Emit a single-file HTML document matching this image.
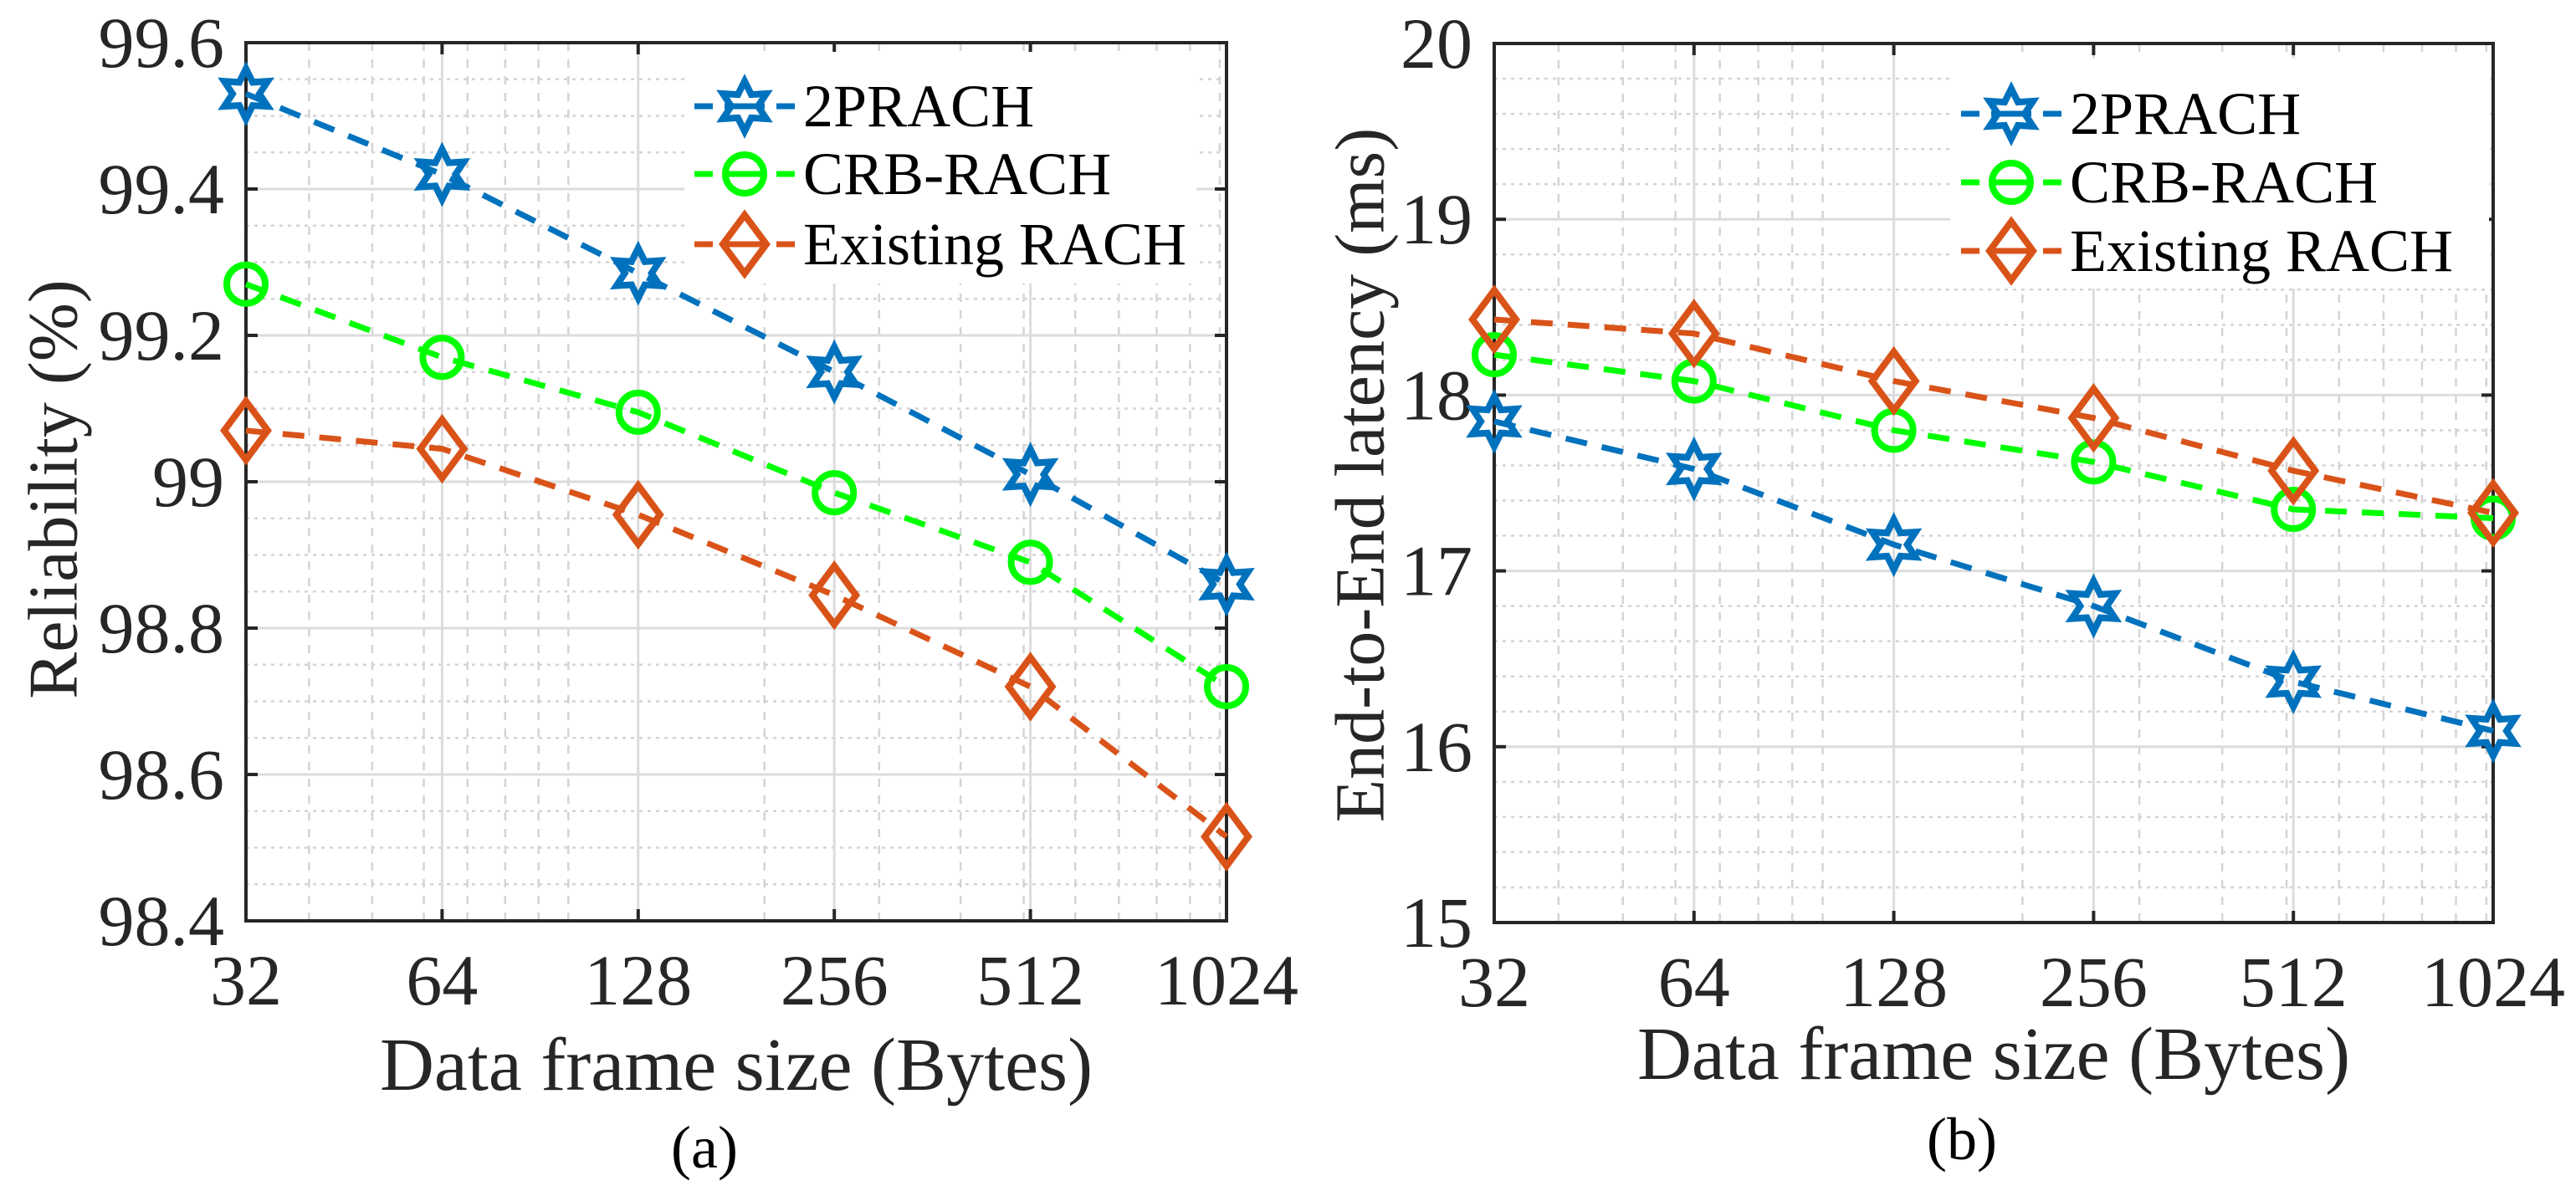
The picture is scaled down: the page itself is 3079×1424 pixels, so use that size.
<!DOCTYPE html>
<html><head><meta charset="utf-8"><style>
html,body{margin:0;padding:0;background:#fff;}
svg{display:block;font-family:"Liberation Serif",serif;}
</style></head><body>
<svg id="fig" width="3079" height="1424" viewBox="0 0 3079 1424" xmlns="http://www.w3.org/2000/svg">
<g id="pa"></g>
<g id="pb"></g>
</svg>
<script>
const categories = [32, 64, 128, 256, 512, 1024];
const xTickLabels = ["32", "64", "128", "256", "512", "1024"];
const seriesNames = ["2PRACH", "CRB-RACH", "Existing RACH"];
const relTwoPrach = [99.53, 99.42, 99.285, 99.15, 99.01, 98.86];
const relCrb = [99.27, 99.17, 99.095, 98.985, 98.89, 98.72];
const relExisting = [99.07, 99.045, 98.955, 98.845, 98.72, 98.515];
const latTwoPrach = [17.85, 17.58, 17.15, 16.8, 16.37, 16.09];
const latCrb = [18.23, 18.08, 17.8, 17.62, 17.35, 17.3];
const latExisting = [18.43, 18.35, 18.08, 17.87, 17.57, 17.33];
const relTicks = [98.4, 98.6, 98.8, 99, 99.2, 99.4, 99.6];
const relTickLabels = ["98.4", "98.6", "98.8", "99", "99.2", "99.4", "99.6"];
const latTicks = [15, 16, 17, 18, 19, 20];
const latTickLabels = ["15", "16", "17", "18", "19", "20"];
const xMinor = [40,50,60,70,80,90,100,200,300,400,500,600,700,800,900,1000];

const NS = "http://www.w3.org/2000/svg";
const colors = ["#0072BD", "#00FF00", "#D95319"];
const markers = ["hexagram", "circle", "diamond"];

function mk(parent, tag, attrs, text) {
  const e = document.createElementNS(NS, tag);
  for (const k in attrs) e.setAttribute(k, attrs[k]);
  if (text !== undefined) e.textContent = text;
  parent.appendChild(e);
  return e;
}

function markerEl(g, type, cx, cy, color) {
  let el;
  if (type === "circle") {
    el = mk(g, "circle", {cx: cx, cy: cy, r: 23, fill: "none", stroke: color, "stroke-width": 8});
  } else if (type === "diamond") {
    el = mk(g, "polygon", {points: `${cx},${cy-35} ${cx+26},${cy} ${cx},${cy+35} ${cx-26},${cy}`, fill: "none", stroke: color, "stroke-width": 8});
  } else {
    let pts = [];
    for (let i = 0; i < 12; i++) {
      const r = i % 2 === 0 ? 30 : 16;
      const a = -Math.PI / 2 + i * Math.PI / 6;
      pts.push((cx + r * Math.cos(a)).toFixed(1) + "," + (cy + r * Math.sin(a)).toFixed(1));
    }
    el = mk(g, "polygon", {points: pts.join(" "), fill: "none", stroke: color, "stroke-width": 8});
  }
  return el;
}

function drawChart(root, cfg) {
  const {L, R, T, B, ymin, ymax, yMinorStep, ticks, tickLabels, series, ylabel, ylabelX, ylabelY, xlabelY, sub, subY, leg} = cfg;
  const xs = v => L + (Math.log2(v) - Math.log2(32)) / 5 * (R - L);
  const ys = v => B - (v - ymin) / (ymax - ymin) * (B - T);

  const grid = mk(root, "g", {});
  
  
  for (let v = ymin + yMinorStep; v < ymax - 1e-9; v += yMinorStep) {
    mk(grid, "line", {x1: L, x2: R, y1: ys(v), y2: ys(v), stroke: "#d4d4d4", "stroke-width": 2.5, "stroke-dasharray": "4 6"});
  }
  xMinor.forEach(v => {
    mk(grid, "line", {x1: xs(v), x2: xs(v), y1: T, y2: B, stroke: "#d4d4d4", "stroke-width": 2.5, "stroke-dasharray": "10 10"});
  });
  ticks.forEach(v => mk(grid, "line", {x1: L, x2: R, y1: ys(v), y2: ys(v), stroke: "#dcdcdc", "stroke-width": 3}));
  categories.forEach(v => mk(grid, "line", {x1: xs(v), x2: xs(v), y1: T, y2: B, stroke: "#dcdcdc", "stroke-width": 3}));

  const lg = mk(root, "g", {});
  
  
  mk(lg, "rect", {x: leg.x, y: leg.y, width: leg.w, height: leg.h, fill: "#fff"});

  const ax = mk(root, "g", {});
  
  
  mk(ax, "rect", {x: L, y: T, width: R - L, height: B - T, fill: "none", stroke: "#262626", "stroke-width": 4});
  ticks.forEach((v, i) => {
    mk(ax, "line", {x1: L, x2: L + 14, y1: ys(v), y2: ys(v), stroke: "#262626", "stroke-width": 4});
    mk(ax, "line", {x1: R, x2: R - 14, y1: ys(v), y2: ys(v), stroke: "#262626", "stroke-width": 4});
    const t = mk(ax, "text", {x: L - 26, y: ys(v) + 29, "text-anchor": "end", "font-size": 86, fill: "#262626"}, tickLabels[i]);
    
    
  });
  categories.forEach((v, i) => {
    mk(ax, "line", {x1: xs(v), x2: xs(v), y1: B, y2: B - 14, stroke: "#262626", "stroke-width": 4});
    mk(ax, "line", {x1: xs(v), x2: xs(v), y1: T, y2: T + 14, stroke: "#262626", "stroke-width": 4});
    const t = mk(ax, "text", {x: xs(v), y: B + 100, "text-anchor": "middle", "font-size": 86, fill: "#262626"}, xTickLabels[i]);
    
    
  });
  const yl = mk(root, "text", {x: ylabelX, y: ylabelY, "text-anchor": "middle", "font-size": 84, fill: "#262626", transform: `rotate(-90 ${ylabelX} ${ylabelY})`, "dominant-baseline": "central"}, ylabel);
  
  
  const xl = mk(root, "text", {x: (L + R) / 2, y: xlabelY, "text-anchor": "middle", "font-size": 90, fill: "#262626"}, "Data frame size (Bytes)");
  
  
  const sl = mk(root, "text", {x: (L + R) / 2 - 38, y: subY, "text-anchor": "middle", "font-size": 72, fill: "#000"}, sub);
  
  

  series.forEach((vals, s) => {
    const g = mk(root, "g", {});
    
    
    const pts = vals.map((v, i) => xs(categories[i]).toFixed(1) + "," + ys(v).toFixed(1)).join(" ");
    mk(g, "polyline", {points: pts, fill: "none", stroke: colors[s], "stroke-width": 7, "stroke-dasharray": "26 18"});
    vals.forEach((v, i) => {
      const m = markerEl(g, markers[s], xs(categories[i]), ys(v), colors[s]);
      
      
    });
  });

  seriesNames.forEach((n, s) => {
    const y = leg.ey[s];
    const e = mk(lg, "g", {});
    
    
    mk(e, "line", {x1: leg.lx, x2: leg.lx + 120, y1: y, y2: y, stroke: colors[s], "stroke-width": 7, "stroke-dasharray": "22 14 48 14 22"});
    markerEl(e, markers[s], leg.lx + 60, y, colors[s]);
    mk(e, "text", {x: leg.lx + 130, y: y + 24, "font-size": 72, fill: "#000"}, n);
  });
  root.appendChild(lg);
}

drawChart(document.getElementById("pa"), {
  L: 294, R: 1466, T: 51, B: 1101, ymin: 98.4, ymax: 99.6, yMinorStep: 0.05,
  ticks: relTicks, tickLabels: relTickLabels,
  series: [relTwoPrach, relCrb, relExisting],
  ylabel: "Reliability (%)", ylabelX: 64, ylabelY: 585,
  xlabelY: 1303, sub: "(a)", subY: 1396,
  leg: {x: 818, y: 62, w: 612, h: 277, lx: 830, ey: [127, 208, 292]}
});
drawChart(document.getElementById("pb"), {
  L: 1786, R: 2980, T: 52, B: 1103, ymin: 15, ymax: 20, yMinorStep: 0.2,
  ticks: latTicks, tickLabels: latTickLabels,
  series: [latTwoPrach, latCrb, latExisting],
  ylabel: "End-to-End latency (ms)", ylabelX: 1626, ylabelY: 568,
  xlabelY: 1290, sub: "(b)", subY: 1386,
  leg: {x: 2331, y: 70, w: 644, h: 275, lx: 2344, ey: [136, 218, 300]}
});
</script>
</body></html>
